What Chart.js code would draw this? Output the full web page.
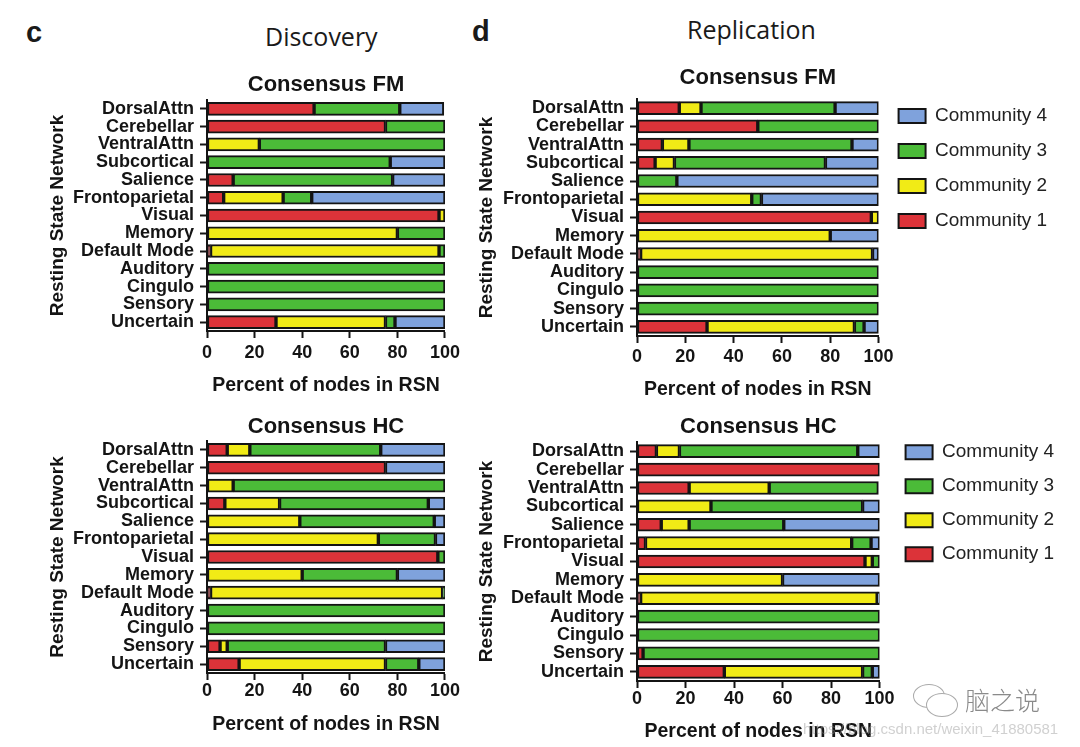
<!DOCTYPE html>
<html><head><meta charset="utf-8">
<script src="https://cdn.jsdelivr.net/npm/chart.js@4.4.1/dist/chart.umd.min.js"></script>
<style>
html,body{margin:0;padding:0;background:#fff;width:1080px;height:747px;overflow:hidden;}
canvas{position:absolute;}
.hdr{position:absolute;font-family:"Open Sans",sans-serif;font-size:25px;color:#1a1a1a;white-space:nowrap;line-height:1;}
.lbl{position:absolute;font-family:"Liberation Sans",Arial,sans-serif;font-weight:bold;font-size:29px;color:#1a1a1a;line-height:1;}
.wm{position:absolute;white-space:nowrap;line-height:1;}
.bub{position:absolute;border:1.5px solid #aaa;border-radius:50%;background:#fff;}
</style></head><body>
<div class="lbl" style="left:26px;top:18px;">c</div>
<div class="hdr" style="left:265px;top:24px;">Discovery</div>
<div class="lbl" style="left:472px;top:17px;">d</div>
<div class="hdr" style="left:687px;top:17px;">Replication</div>

<canvas id="dFM" width="434" height="350" style="left:30px;top:60px;"></canvas>
<canvas id="dHC" width="430" height="347" style="left:30px;top:400px;"></canvas>
<canvas id="rFM" width="620" height="350" style="left:460px;top:55px;"></canvas>
<canvas id="rHC" width="620" height="347" style="left:460px;top:400px;"></canvas>

<div class="bub" style="left:913px;top:684px;width:30px;height:22px;"></div>
<div class="bub" style="left:926px;top:693px;width:30px;height:22px;"></div>
<div class="wm" style="left:965px;top:687px;font-family:'Noto Sans CJK SC',sans-serif;font-size:25px;color:#8a8a8a;font-weight:300;">脑之说</div>
<div class="wm" style="left:803px;top:721px;font-family:'Liberation Sans',Arial,sans-serif;font-size:15px;color:rgba(150,150,150,0.45);">https://blog.csdn.net/weixin_41880581</div>

<script>
// ---------- data ----------
const categories = ['DorsalAttn','Cerebellar','VentralAttn','Subcortical','Salience','Frontoparietal','Visual','Memory','Default Mode','Auditory','Cingulo','Sensory','Uncertain'];
const seriesNames = ['Community 1','Community 2','Community 3','Community 4'];
const xTickValues = [0,20,40,60,80,100];

// Discovery – Consensus FM
const discFM_c1 = [45, 75, 0, 0, 11, 7, 97.5, 0, 1.5, 0, 0, 0, 29];
const discFM_c2 = [0, 0, 22, 0, 0, 25, 2.5, 80, 96, 0, 0, 0, 46];
const discFM_c3 = [36, 25, 78, 77, 67, 12, 0, 20, 2.5, 100, 100, 100, 4];
const discFM_c4 = [18.5, 0, 0, 23, 22, 56, 0, 0, 0, 0, 0, 0, 21];

// Discovery – Consensus HC
const discHC_c1 = [8.5, 75, 0, 7.5, 0, 0, 97, 0, 1.5, 0, 0, 5.5, 13.5];
const discHC_c2 = [9.5, 0, 11, 23, 39, 72, 0, 40, 97.5, 0, 0, 3, 61.5];
const discHC_c3 = [55, 0, 89, 62.5, 56.5, 24, 3, 40, 1, 100, 100, 66.5, 14];
const discHC_c4 = [27, 25, 0, 7, 4.5, 4, 0, 20, 0, 0, 0, 25, 11];

// Replication – Consensus FM
const repFM_c1 = [17.5, 50, 10.5, 7.5, 0, 0, 97, 0, 1.5, 0, 0, 0, 29];
const repFM_c2 = [9, 0, 11, 8, 0, 47.5, 3, 80, 96, 0, 0, 0, 61];
const repFM_c3 = [55.5, 50, 67.5, 62.5, 16.5, 4, 0, 0, 0, 100, 100, 100, 4];
const repFM_c4 = [18, 0, 11, 22, 83.5, 48.5, 0, 20, 2.5, 0, 0, 0, 6];

// Replication – Consensus HC
const repHC_c1 = [8, 100, 21.5, 0, 10, 3.5, 94, 0, 1.5, 0, 0, 2.5, 36];
const repHC_c2 = [9.5, 0, 33, 30.5, 11.5, 85, 3, 60, 97.5, 0, 0, 0, 57];
const repHC_c3 = [73.5, 0, 45, 62.5, 39, 8, 3, 0, 0, 100, 100, 97.5, 4];
const repHC_c4 = [9, 0, 0, 7, 39.5, 3.5, 0, 40, 1, 0, 0, 0, 3];

// ---------- styling ----------
const seriesColors = ['#dc3339', '#f1eb16', '#4bbb38', '#7fa2dc'];
const FONT = '"Liberation Sans", Arial, Helvetica, sans-serif';
const INK = '#141414';

const legendNudge = {
  id: 'legendNudge',
  afterLayout(chart, args, opts) {
    const l = chart.legend;
    if (!l || !opts || !chart.options.plugins.legend.display) return;
    l.left += opts.dx; l.right += opts.dx;
    l.top += opts.dy; l.bottom += opts.dy;
  }
};

function makeChart(id, title, series, cfg) {
  const datasets = series.map((vals, i) => ({
    label: seriesNames[i],
    data: vals.map(v => v === 0 ? null : v),
    backgroundColor: seriesColors[i],
    borderColor: INK,
    borderWidth: 2,
    borderSkipped: false,
    barThickness: 13
  }));
  return new Chart(document.getElementById(id), {
    type: 'bar',
    data: { labels: categories, datasets },
    plugins: [legendNudge],
    options: {
      indexAxis: 'y',
      responsive: false,
      animation: false,
      layout: { padding: { left: 0, top: 0, bottom: 0, right: cfg.padRight || 0 } },
      plugins: {
        title: {
          display: true, text: title, color: INK, fullSize: false,
          font: { family: FONT, size: 22, weight: 'bold' },
          padding: { top: cfg.titleTop, bottom: cfg.titleBottom }
        },
        legend: {
          display: !!cfg.legend, position: 'right', align: 'start', fullSize: false, reverse: true,
          maxWidth: 300,
          labels: {
            boxWidth: 27, boxHeight: 14, padding: cfg.legendPad || 16, color: '#222',
            font: { family: FONT, size: 19 }
          }
        },
        legendNudge: cfg.nudge || { dx: 0, dy: 0 },
        tooltip: { enabled: false }
      },
      scales: {
        x: {
          stacked: true, min: 0, max: 100,
          afterBuildTicks: s => { s.ticks = xTickValues.map(v => ({ value: v })); },
          afterFit: s => { s.height = cfg.xHeight; },
          border: { display: true, color: INK, width: 2 },
          grid: { display: true, drawOnChartArea: false, drawTicks: true, tickLength: 7, tickColor: INK, tickWidth: 2 },
          ticks: { color: INK, padding: cfg.xTickPad, font: { family: FONT, size: 18, weight: 'bold' } },
          title: {
            display: true, text: 'Percent of nodes in RSN', color: INK,
            font: { family: FONT, size: 19.5, weight: 'bold' },
            padding: { top: 0, bottom: cfg.xTitleBottom }
          }
        },
        y: {
          stacked: true,
          afterFit: s => { s.width = 177; },
          border: { display: true, color: INK, width: 2 },
          grid: { display: true, offset: false, drawOnChartArea: false, drawTicks: true, tickLength: 7, tickColor: INK, tickWidth: 2 },
          ticks: { color: INK, padding: 6, autoSkip: false, font: { family: FONT, size: 18, weight: 'bold' } },
          title: {
            display: true, text: 'Resting State Network', color: INK,
            font: { family: FONT, size: 19, weight: 'bold' },
            padding: { top: cfg.yTitlePad, bottom: 0 }
          }
        }
      }
    }
  });
}

makeChart('dFM', 'Consensus FM', [discFM_c1, discFM_c2, discFM_c3, discFM_c4],
  { titleTop: 12, titleBottom: 1.6, xHeight: 79, xTickPad: 4, xTitleBottom: 12.3, yTitlePad: 16.6 });
makeChart('dHC', 'Consensus HC', [discHC_c1, discHC_c2, discHC_c3, discHC_c4],
  { titleTop: 13.8, titleBottom: 0.8, xHeight: 74, xTickPad: 0, xTitleBottom: 10.3, yTitlePad: 16.6 });
makeChart('rFM', 'Consensus FM', [repFM_c1, repFM_c2, repFM_c3, repFM_c4],
  { titleTop: 9.8, titleBottom: 7.8, xHeight: 69, xTickPad: 3, xTitleBottom: 3.3, yTitlePad: 15.6,
    legend: true, legendPad: 16, padRight: 27, nudge: { dx: 4, dy: -8.5 } });
makeChart('rHC', 'Consensus HC', [repHC_c1, repHC_c2, repHC_c3, repHC_c4],
  { titleTop: 13.8, titleBottom: 1.8, xHeight: 66, xTickPad: 0, xTitleBottom: 3.3, yTitlePad: 15.6,
    legend: true, legendPad: 15, padRight: 27, nudge: { dx: 11, dy: -14.3 } });
</script>
</body></html>
